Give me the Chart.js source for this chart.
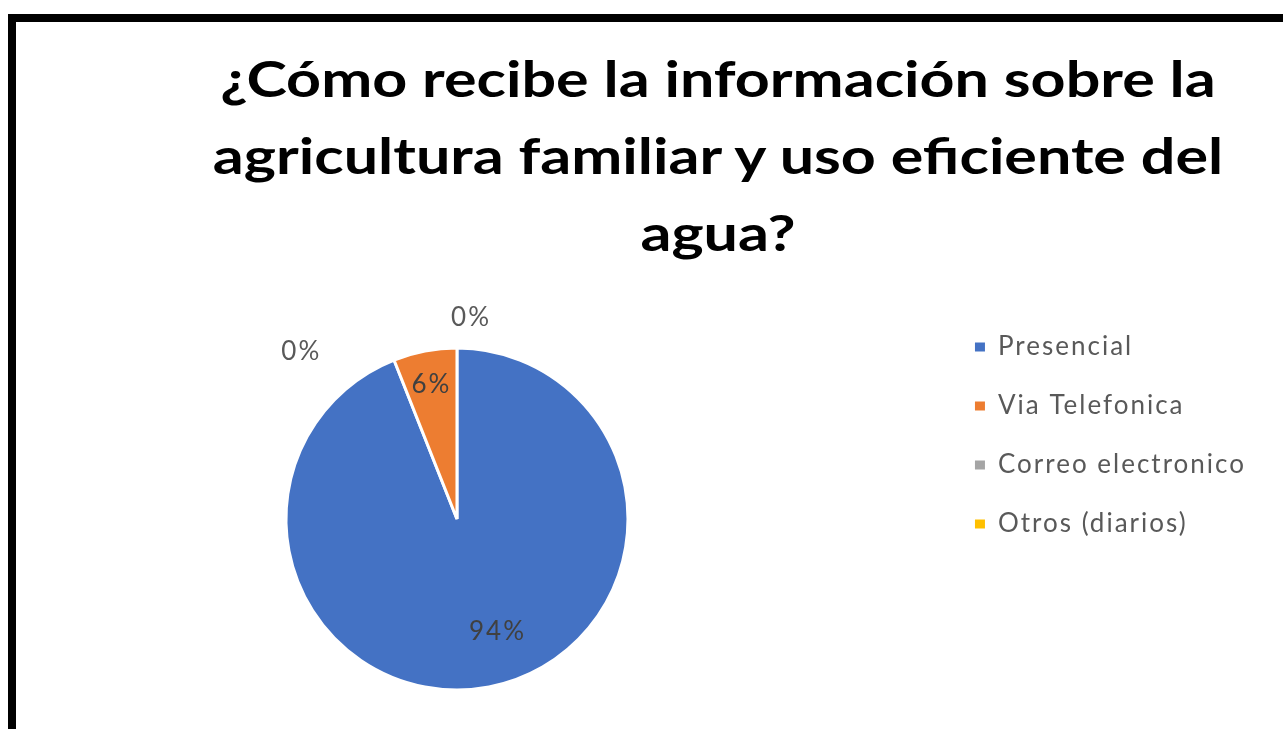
<!DOCTYPE html>
<html>
<head>
<meta charset="utf-8">
<script src="https://cdn.jsdelivr.net/npm/chart.js@4.4.0/dist/chart.umd.min.js"></script>
<style>
    html, body { margin: 0; padding: 0; background: #fff; width: 1283px; height: 729px; overflow: hidden; }
    #frame { position: absolute; left: 8px; top: 14px; width: 1400px; height: 800px; border-left: 8px solid #000; border-top: 8px solid #000; z-index: 2; pointer-events: none; }
    #title { position: absolute; left: 18px; top: 40px; width: 1400px; text-align: center; font-family: Lato, sans-serif; font-weight: bold; font-size: 50px; line-height: 77px; color: #000; transform: scaleX(1.22); transform-origin: 700px 0; }
    #wrap { position: absolute; left: -28px; top: 301px; width: 1328px; height: 436px; }
</style>
</head>
<body>
<div id="frame"></div>
<div id="title"></div>
<div id="wrap"><canvas id="myChart"></canvas></div>
<script>
var titleLines = ['¿Cómo recibe la información sobre la', 'agricultura familiar y uso eficiente del', 'agua?'];
var categories = ['Presencial', 'Via Telefonica', 'Correo electronico', 'Otros (diarios)'];
var values = [94, 6, 0, 0];
var colors = ['#4472C4', '#ED7D31', '#A5A5A5', '#FFC000'];

// where each percentage label sits: angle shift (deg) from slice middle, distance as part of radius
var labelShift = [-9, 0, -43, 4];
var labelDist = [0.70, 0.80, 1.335, 1.18];

document.getElementById('title').innerHTML = titleLines.join('<br>');

// the reference text is a bit stretched, so space the letters out a little
var wideText = {
    id: 'wideText',
    beforeLayout: function (chart) { chart.ctx.letterSpacing = '2px'; },
    beforeDraw: function (chart) { chart.ctx.letterSpacing = '2px'; }
};

var sliceLabels = {
    id: 'sliceLabels',
    afterDatasetsDraw: function (chart) {
        var ctx = chart.ctx;
        var meta = chart.getDatasetMeta(0);
        var total = 0;
        for (var i = 0; i < values.length; i++) {
            total = total + values[i];
        }
        ctx.save();
        ctx.letterSpacing = '2px';
        ctx.font = '26px Lato';
        ctx.textAlign = 'center';
        ctx.textBaseline = 'middle';
        meta.data.forEach(function (arc, i) {
            var p = arc.getProps(['x', 'y', 'startAngle', 'endAngle', 'outerRadius'], true);
            var mid = (p.startAngle + p.endAngle) / 2 + labelShift[i] * Math.PI / 180;
            var r = p.outerRadius * labelDist[i];
            ctx.fillStyle = labelDist[i] > 1 ? '#595959' : '#404040';
            ctx.fillText(Math.round(values[i] / total * 100) + '%', p.x + Math.cos(mid) * r, p.y + Math.sin(mid) * r);
        });
        ctx.restore();
    }
};

var ctx = document.getElementById('myChart').getContext('2d');
var chart = new Chart(ctx, {
    type: 'pie',
    data: {
        labels: categories,
        datasets: [{
            data: values,
            backgroundColor: colors,
            borderColor: '#ffffff',
            borderWidth: 3,
            radius: 171
        }]
    },
    options: {
        responsive: true,
        maintainAspectRatio: false,
        animation: false,
        layout: { padding: { left: 0, right: 44, top: 0, bottom: 0 } },
        plugins: {
            tooltip: { enabled: false },
            legend: {
                position: 'right',
                align: 'start',
                labels: {
                    boxWidth: 10,
                    boxHeight: 9,
                    padding: 33,
                    color: '#595959',
                    font: { family: 'Lato', size: 26 },
                    generateLabels: function (chart) {
                        var items = Chart.overrides.pie.plugins.legend.labels.generateLabels(chart);
                        items.forEach(function (it) {
                            it.lineWidth = 0;
                            it.fontColor = '#595959';
                        });
                        return items;
                    }
                }
            }
        }
    },
    plugins: [wideText, sliceLabels]
});
</script>
</body>
</html>
